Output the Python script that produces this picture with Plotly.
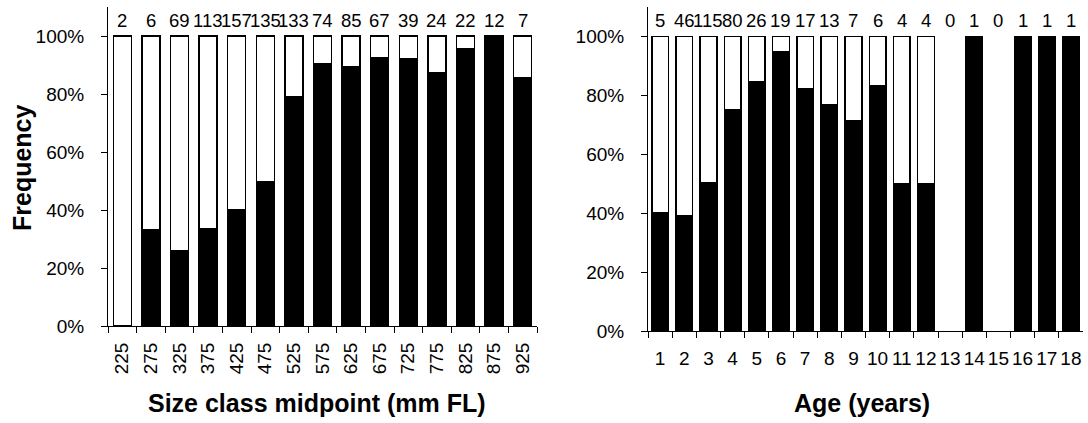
import plotly.graph_objects as go

# ---- data ----
size_classes = ["225", "275", "325", "375", "425", "475", "525", "575",
                "625", "675", "725", "775", "825", "875", "925"]
size_n = [2, 6, 69, 113, 157, 135, 133, 74, 85, 67, 39, 24, 22, 12, 7]
size_black_pct = [0, 33.3, 26.1, 33.6, 40.1, 49.6, 78.9, 90.5, 89.4, 92.5,
                  92.3, 87.5, 95.5, 100, 85.7]

ages = [str(i) for i in range(1, 19)]
age_n = [5, 46, 115, 80, 26, 19, 17, 13, 7, 6, 4, 4, 0, 1, 0, 1, 1, 1]
age_black_pct = [40, 39.1, 50.4, 75, 84.6, 94.7, 82.4, 76.9, 71.4, 83.3,
                 50, 50, None, 100, None, 100, 100, 100]

y_ticks = [0, 20, 40, 60, 80, 100]
y_tick_text = [f"{v}%" for v in y_ticks]

FONT = "Liberation Sans, Arial, sans-serif"
W, H = 1088, 423


def px(x):
    return min(max(x / W, 0), 1)


def py(y):
    return min(max(1 - y / H, 0), 1)


def white_part(black):
    return [None if b is None else 100 - b for b in black]


fig = go.Figure()

# left panel
fig.add_trace(go.Bar(x=size_classes, y=size_black_pct, width=0.63,
                     marker=dict(color="black", line=dict(color="black", width=1.5)),
                     xaxis="x", yaxis="y", showlegend=False, hoverinfo="skip"))
fig.add_trace(go.Bar(x=size_classes, y=white_part(size_black_pct), width=0.63,
                     marker=dict(color="white", line=dict(color="black", width=1.5)),
                     xaxis="x", yaxis="y", showlegend=False, hoverinfo="skip"))
# right panel
fig.add_trace(go.Bar(x=ages, y=age_black_pct, width=0.69,
                     marker=dict(color="black", line=dict(color="black", width=1.5)),
                     xaxis="x2", yaxis="y2", showlegend=False, hoverinfo="skip"))
fig.add_trace(go.Bar(x=ages, y=white_part(age_black_pct), width=0.69,
                     marker=dict(color="white", line=dict(color="black", width=1.5)),
                     xaxis="x2", yaxis="y2", showlegend=False, hoverinfo="skip"))

count_font = dict(size=18.5, color="black", family=FONT)
annotations = []
for i, n in enumerate(size_n):
    annotations.append(dict(x=i, y=100, xref="x", yref="y", text=str(n),
                            showarrow=False, yanchor="bottom", yshift=3,
                            font=count_font))
for i, n in enumerate(age_n):
    annotations.append(dict(x=i, y=100, xref="x2", yref="y2", text=str(n),
                            showarrow=False, yanchor="bottom", yshift=3,
                            font=count_font))

title_font = dict(size=25, color="black", family=FONT)
annotations.append(dict(x=px(22), y=py(168), xref="paper", yref="paper",
                        text="<b>Frequency</b>", textangle=-90, showarrow=False,
                        xanchor="center", yanchor="middle", font=title_font))
annotations.append(dict(x=px(317), y=py(403), xref="paper", yref="paper",
                        text="<b>Size class midpoint (mm FL)</b>", showarrow=False,
                        xanchor="center", yanchor="middle", font=title_font))
annotations.append(dict(x=px(862), y=py(403), xref="paper", yref="paper",
                        text="<b>Age (years)</b>", showarrow=False,
                        xanchor="center", yanchor="middle", font=title_font))

tick_font = dict(size=19, color="black", family=FONT)
common_x = dict(type="category", showline=True, linecolor="black", linewidth=1,
                ticks="outside", tickson="boundaries", ticklen=6, tickcolor="black",
                showgrid=False, zeroline=False, automargin=False,
                tickfont=tick_font)
common_y = dict(range=[0, 110], tickvals=y_ticks, ticktext=y_tick_text,
                showline=True, linecolor="black", linewidth=1,
                ticks="outside", ticklen=6, tickcolor="black",
                showgrid=False, zeroline=False, automargin=False,
                ticklabelstandoff=13,
                tickfont=tick_font)

fig.update_layout(
    width=W, height=H,
    margin=dict(l=0, r=0, t=0, b=0),
    paper_bgcolor="white", plot_bgcolor="white",
    barmode="stack",
    hovermode=False,
    font=dict(family=FONT, color="black"),
    xaxis=dict(common_x, domain=[px(108), px(537)], anchor="y",
               range=[-0.5, len(size_classes) - 0.5],
               tickangle=-90, ticklabelstandoff=8),
    yaxis=dict(common_y, domain=[py(326), py(7)], anchor="x"),
    xaxis2=dict(common_x, domain=[px(648), px(1083)], anchor="y2",
                range=[-0.5, len(ages) - 0.5],
                tickangle=0, ticklabelstandoff=10),
    yaxis2=dict(common_y, domain=[py(331), py(7)], anchor="x2"),
    annotations=annotations,
)

# remove the default page margin so the 1088x423 figure fills the window exactly
fig.write_html("out.html",
               config={"displayModeBar": False, "staticPlot": True},
               post_script="document.body.style.margin='0px';"
                           "document.body.style.overflow='hidden';")
